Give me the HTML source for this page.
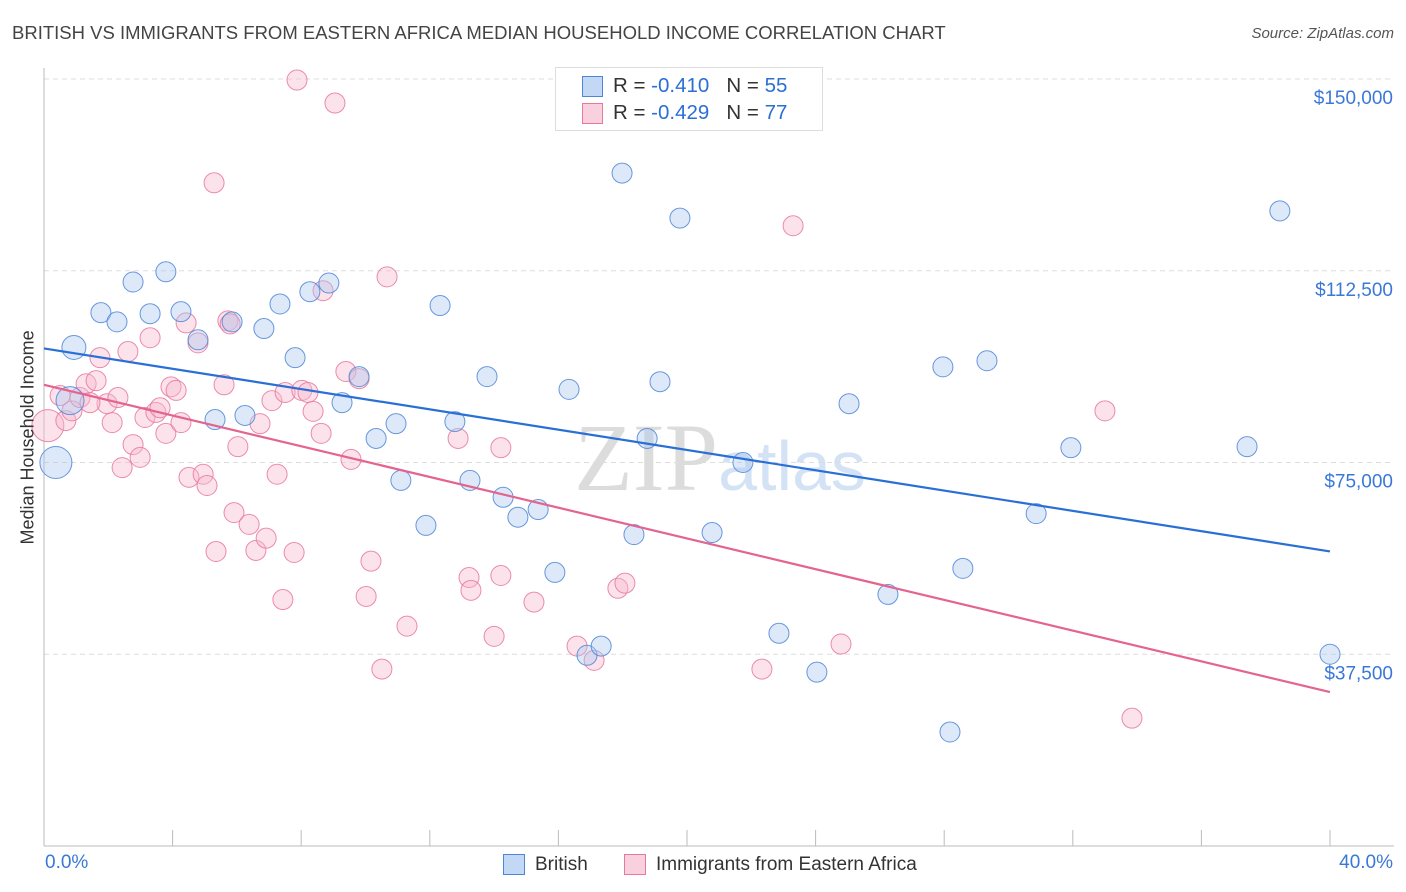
<!DOCTYPE html>
<html><head><meta charset="utf-8"><style>
body{margin:0;background:#fff;font-family:"Liberation Sans",sans-serif;}
#wrap{position:relative;width:1406px;height:892px;overflow:hidden;}
.t{position:absolute;white-space:nowrap;}
</style></head><body>
<div id="wrap">
<div class="t" style="left:12px;top:22px;font-size:18.5px;color:#444;">BRITISH VS IMMIGRANTS FROM EASTERN AFRICA MEDIAN HOUSEHOLD INCOME CORRELATION CHART</div>
<div class="t" style="right:12px;top:25px;font-size:15px;color:#555;font-style:italic;">Source: ZipAtlas.com</div>
<svg id="svg" width="1406" height="892" style="position:absolute;left:0;top:0"></svg>
</div>
<script>
const xMin=0,xMax=40,yMin=0;
const yTicks=[37500,75000,112500,150000];
const yTickLabels=["$37,500","$75,000","$112,500","$150,000"];
const blueX=[0.37,0.93,0.81,1.77,2.27,2.77,3.30,3.79,4.26,4.79,5.32,5.85,6.25,6.84,7.34,7.81,8.27,8.86,9.27,9.80,10.33,10.95,11.10,11.88,12.32,12.78,13.25,13.78,14.28,14.74,15.37,15.89,16.33,16.89,17.33,17.98,18.35,18.76,19.16,19.78,20.78,21.74,22.86,24.04,25.04,26.25,27.96,28.18,28.58,29.33,30.86,31.94,37.42,38.44,40.0];
const blueY=[75.0,97.5,87.1,104.3,102.5,110.3,104.1,112.3,104.5,99.0,83.4,102.5,84.2,101.2,106.0,95.5,108.4,110.1,86.7,91.8,79.7,82.6,71.5,62.7,105.7,83.0,71.5,91.8,68.2,64.3,65.8,53.5,89.3,37.3,39.1,131.6,60.9,79.7,90.8,122.8,61.3,75.0,41.6,34.0,86.5,49.2,93.7,22.3,54.3,94.9,65.0,77.9,78.1,124.2,37.5];
const blueSize=[16,12,14];
const pinkX=[0.12,0.50,0.68,0.87,1.12,1.31,1.62,1.74,1.96,2.12,2.30,2.43,2.61,2.77,2.99,3.14,3.30,3.48,3.61,3.79,3.95,4.11,4.26,4.42,4.51,4.79,4.95,5.07,5.29,5.35,5.60,5.72,5.91,6.03,6.38,6.59,6.72,6.91,7.09,7.25,7.43,7.50,7.78,7.87,8.02,8.21,8.37,8.62,8.68,9.05,9.39,9.55,9.80,10.02,10.17,10.51,10.67,11.29,12.88,13.22,13.28,14.00,14.21,14.21,15.24,16.58,17.11,17.85,18.07,22.33,23.30,24.79,33.00,33.84,1.43,5.79];
const pinkY=[82.2,88.1,83.2,85.1,87.7,90.4,91.0,95.5,86.5,82.8,87.7,74.0,96.7,78.5,76.0,83.8,99.4,84.8,85.7,80.7,89.8,89.1,82.8,102.3,72.1,98.4,72.7,70.5,129.7,57.6,90.2,102.7,65.2,78.1,62.9,57.8,82.6,60.2,87.1,72.7,48.2,88.7,57.4,149.8,89.1,88.7,85.0,80.7,108.6,145.3,92.8,75.6,91.4,48.8,55.7,34.6,111.3,43.0,79.7,52.5,50.0,41.0,77.9,52.9,47.7,39.1,36.3,50.4,51.4,34.6,121.3,39.5,85.1,25.0,86.7,102.1];
const pinkSize=[16];
const blueTrend=[97300,57600];
const pinkTrend=[90200,30100];
const L=44,R=1330,T=79,B=846;
const sx=v=>L+(v-xMin)/(xMax-xMin)*(R-L);
const sy=v=>B-(v-yMin)/(150000-yMin)*(B-T);
const svg=document.getElementById('svg');const NS='http://www.w3.org/2000/svg';
function mk(tag,attrs,parent){const e=document.createElementNS(NS,tag);for(const k in attrs)e.setAttribute(k,attrs[k]);(parent||svg).appendChild(e);return e;}
let wm=mk('text',{x:720,y:490,'text-anchor':'middle','font-size':96,'font-family':'Liberation Serif, serif',fill:'#dcdcdc'});


wm.innerHTML='ZIP<tspan font-family="Liberation Sans, sans-serif" font-size="70" fill="#d3e2f5">atlas</tspan>';
yTicks.forEach((v,i)=>{
 const g=mk('line',{x1:L,x2:1394,y1:sy(v),y2:sy(v),stroke:'#ddd','stroke-dasharray':'5,4'});
 
 
 const t=mk('text',{x:1393,y:sy(v)+25,'text-anchor':'end','font-size':19,fill:'#3a78d8'});
 
 
 t.textContent=yTickLabels[i];
});
let ax=mk('line',{x1:L,x2:L,y1:68,y2:B,stroke:'#bbb'});


let bx=mk('line',{x1:L,x2:1394,y1:B,y2:B,stroke:'#bbb'});


for(let i=0;i<=10;i++){const v=i*4;
 const tk=mk('line',{x1:sx(v),x2:sx(v),y1:830,y2:B,stroke:'#bbb'});
 
 
}
function dots(xs,ys,sizes,fill,stroke,name){xs.forEach((x,i)=>{
 const c=mk('circle',{cx:sx(x),cy:sy(ys[i]*1000),r:sizes[i]||10,fill:fill,stroke:stroke,'stroke-width':1,'fill-opacity':0.4,'stroke-opacity':0.85});
 
 
});}
dots(pinkX,pinkY,pinkSize,'#f7b9cc','#e8789c','pink-point');
dots(blueX,blueY,blueSize,'#aac8ef','#4d86d6','blue-point');
let l1=mk('line',{x1:sx(0),y1:sy(blueTrend[0]),x2:sx(40),y2:sy(blueTrend[1]),stroke:'#2a6fd6','stroke-width':2.2});


let l2=mk('line',{x1:sx(0),y1:sy(pinkTrend[0]),x2:sx(40),y2:sy(pinkTrend[1]),stroke:'#e4648f','stroke-width':2.2});


</script>
<div class="t" style="left:-60px;top:446px;width:176px;text-align:center;transform:rotate(-90deg);font-size:18px;color:#333;">Median Household Income</div>
<div class="t" style="left:45px;top:852px;font-size:19px;color:#3a78d8;">0.0%</div>
<div class="t" style="right:13px;top:852px;font-size:19px;color:#3a78d8;">40.0%</div>
<div style="position:absolute;left:555px;top:67px;width:266px;height:62px;border:1px solid #ddd;background:#fff;font-size:20.5px;color:#333;">
 <div style="position:absolute;left:26px;top:8px;width:19px;height:19px;background:#c3d8f4;border:1px solid #4d86d6;"></div>
 <div class="t" style="left:57px;top:6px;">R = <span style="color:#2a6fd6">-0.410</span>&nbsp;&nbsp;&nbsp;N = <span style="color:#2a6fd6">55</span></div>
 <div style="position:absolute;left:26px;top:35px;width:19px;height:19px;background:#f9d0dd;border:1px solid #e8789c;"></div>
 <div class="t" style="left:57px;top:33px;">R = <span style="color:#2a6fd6">-0.429</span>&nbsp;&nbsp;&nbsp;N = <span style="color:#2a6fd6">77</span></div>
</div>
<div style="position:absolute;left:503px;top:854px;font-size:19px;color:#333;">
 <div style="position:absolute;left:0;top:0;width:20px;height:19px;background:#c3d8f4;border:1px solid #4d86d6;"></div>
 <div class="t" style="left:32px;top:0;">British</div></div>
<div style="position:absolute;left:624px;top:854px;font-size:19px;color:#333;">
 <div style="position:absolute;left:0;top:0;width:20px;height:19px;background:#f9d0dd;border:1px solid #e8789c;"></div>
 <div class="t" style="left:32px;top:0;">Immigrants from Eastern Africa</div></div>
</body></html>
